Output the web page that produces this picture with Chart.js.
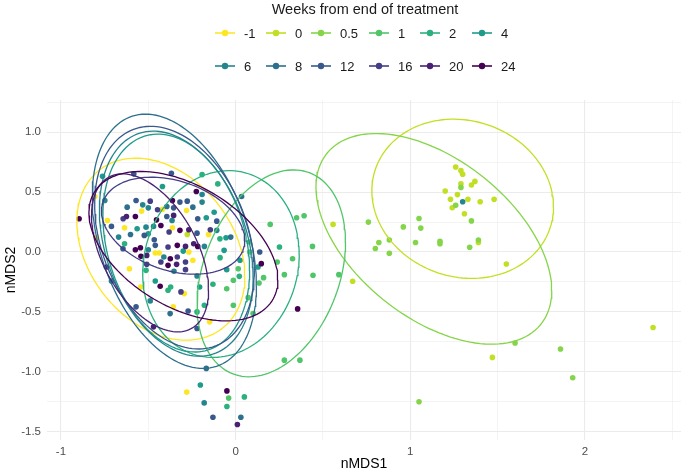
<!DOCTYPE html>
<html>
<head>
<meta charset="utf-8">
<script src="https://cdn.jsdelivr.net/npm/chart.js@4.4.1/dist/chart.umd.min.js"></script>
<style>
  body { margin: 0; background: #fff; font-family: "Liberation Sans", Arial, sans-serif; }
  #wrap { position: relative; width: 685px; height: 473px; }
  #legend { position: absolute; left: 0; top: 0; width: 685px; height: 95px; pointer-events: none; color: #1a1a1a; }
  #legend .title { position: absolute; left: 215px; width: 300px; top: 0; text-align: center; font-size: 14.5px; line-height: 18px; }
  #legend .item { position: absolute; height: 18px; display: flex; align-items: center; font-size: 13px; }
  #legend .item svg { margin-right: 9px; }
</style>
</head>
<body>
<div id="wrap">
  <canvas id="nmds"></canvas>
  <div id="legend"></div>
</div>
<script>
/* ------------------------------------------------------------
   DATA
------------------------------------------------------------- */
const weekLabels = ["-1", "0", "0.5", "1", "2", "4", "6", "8", "12", "16", "20", "24"];
const weekColors = ["#FDE725", "#C2DF23", "#85D54A", "#51C56A", "#2BB07F", "#1E9B8A",
                    "#25858E", "#2D708E", "#38598C", "#433E85", "#482173", "#440154"];

// points per group, [nMDS1, nMDS2]
const wkM1 = [[-0.806, 0.464], [-0.538, 0.342], [-0.419, 0.356], [-0.281, 0.347], [-0.734, 0.264],
  [-0.636, 0.203], [-0.362, 0.203], [-0.155, 0.147], [-0.796, 0.119], [-0.460, -0.008], [-0.438, -0.008],
  [-0.268, 0.0], [-0.245, -0.069], [-0.608, -0.139], [-0.543, -0.292], [-0.294, -0.347], [-0.357, -0.458],
  [-0.149, -0.583], [-0.28, -1.17]];
const wk0 = [[-0.277, 0.147], [0.558, 0.231], [0.670, -0.244], [1.26, 0.71], [1.29, 0.68], [1.30, 0.65],
  [1.29, 0.57], [1.35, 0.56], [1.37, 0.59], [1.20, 0.51], [1.27, 0.48], [1.23, 0.44], [1.33, 0.44],
  [1.40, 0.42], [1.48, 0.44], [1.24, 0.37], [1.31, 0.32], [1.39, 0.08], [1.55, -0.10], [1.47, -0.88],
  [2.39, -0.63]];
const wk05 = [[1.29, 0.54], [1.26, 0.39], [1.35, 0.26], [1.05, 0.28], [1.06, 0.20], [0.96, 0.21],
  [1.03, 0.08], [1.17, 0.09], [1.17, 0.07], [1.34, 0.04], [1.39, 0.10], [0.76, 0.25], [0.82, 0.08],
  [0.88, 0.10], [0.80, 0.03], [0.88, -0.01], [1.60, -0.76], [1.86, -0.81], [1.93, -1.05], [1.05, -1.25]];
const wk1 = [[0.198, 0.231], [0.349, 0.286], [0.392, 0.303], [0.326, -0.056], [0.440, 0.047],
  [0.238, -0.083], [0.160, -0.214], [0.279, -0.189], [0.443, -0.194], [0.591, -0.189], [0.279, -0.903],
  [0.368, -0.903], [0.077, 0.083], [0.081, 0.0], [0.015, -0.139], [-0.051, -0.306], [-0.013, -0.236],
  [0.072, -0.381], [0.134, -0.258], [-0.013, -0.444], [0.100, -0.514], [-0.04, -1.22]];
const wk2 = [[-0.192, 0.647], [-0.102, 0.569], [-0.636, 0.069], [-0.513, -0.153], [-0.387, -0.319],
  [-0.372, -0.292], [0.251, 0.042], [0.05, -1.21], [-0.05, -1.29], [-0.130, -0.269], [-0.089, -0.047],
  [-0.221, -0.500], [-0.179, -0.444], [0.021, -0.203], [-0.09, 0.11]];
const wk4 = [[-0.762, 0.633], [-0.419, 0.547], [-0.123, 0.333], [-0.564, 0.194], [-0.055, 0.119],
  [-0.066, 0.014], [0.025, -0.069], [0.128, -0.125], [-0.051, -0.147], [-0.460, -0.242], [-0.206, -0.292],
  [-0.202, -1.111], [-0.500, 0.153], [-0.300, 0.008], [-0.168, 0.286]];
const wk6 = [[-0.192, 0.481], [-0.749, 0.431], [-0.532, 0.394], [-0.500, 0.369], [-0.192, 0.417],
  [-0.364, 0.264], [-0.108, 0.181], [-0.670, 0.125], [-0.513, 0.208], [-0.470, 0.214], [-0.500, 0.019],
  [-0.179, 0.047], [-0.411, -0.042], [-0.353, -0.161], [-0.221, -0.200], [-0.711, -0.242], [-0.489, -0.408],
  [-0.18, -1.26], [1.30, 0.42]];
const wk8 = [[0.034, 0.464], [-0.621, 0.375], [-0.168, -0.972], [0.03, -1.38], [-0.602, 0.147],
  [-0.394, 0.381], [-0.245, 0.375], [-0.028, 0.125], [-0.375, -0.514]];
const wk12 = [[-0.583, 0.653], [-0.368, 0.658], [-0.570, 0.431], [-0.319, 0.417], [-0.277, 0.425],
  [-0.355, 0.369], [-0.394, 0.297], [-0.217, 0.278], [-0.108, 0.258], [-0.711, 0.214], [-0.221, 0.158],
  [-0.523, 0.139], [-0.466, 0.103], [-0.645, 0.028], [-0.460, 0.056], [0.138, 0.0], [-0.570, -0.458],
  [-0.272, -0.492], [-0.221, -0.639], [-0.13, -1.38]];
const wk16 = [[-0.489, 0.425], [-0.447, 0.353], [-0.644, 0.278], [-0.145, 0.186], [-0.381, 0.167],
  [-0.387, 0.042], [-0.287, -0.083], [-0.509, -0.103], [-0.287, -0.147], [-0.313, -0.333], [-0.334, -0.042],
  [-0.428, -0.083]];
const wk20 = [[-0.625, 0.297], [-0.355, 0.306], [-0.240, 0.069], [-0.509, -0.028], [-0.740, -0.125],
  [-0.470, -0.625], [0.01, -1.44], [-0.268, 0.186], [-0.287, 0.047], [-0.338, -0.103]];
const wk24 = [[-0.225, 0.506], [-0.362, 0.431], [-0.574, 0.297], [-0.453, 0.269], [-0.896, 0.278],
  [-0.428, 0.222], [-0.319, 0.181], [-0.574, 0.019], [-0.545, 0.036], [-0.334, 0.056], [-0.217, 0.047],
  [-0.542, -0.036], [-0.374, -0.056], [0.147, -0.097], [-0.387, -0.111], [-0.432, -0.286], [0.355, -0.475],
  [-0.05, -1.16]];
const groupPoints = [wkM1, wk0, wk05, wk1, wk2, wk4, wk6, wk8, wk12, wk16, wk20, wk24];

// 95% ellipses: centre, half width, half height, tilt (y offset at the rightmost point / half height)
const ellCx  = [-0.428, 1.30, 1.135, 0.204, -0.084, -0.34, -0.34, -0.351, -0.35, -0.358, -0.49, -0.299];
const ellCy  = [0.024, 0.445, 0.11, -0.178, -0.10, 0.075, 0.07, 0.09, 0.12, 0.22, -0.007, 0.049];
const ellRx  = [0.481, 0.52, 0.675, 0.425, 0.448, 0.42, 0.44, 0.47, 0.457, 0.41, 0.335, 0.541];
const ellRy  = [0.76, 0.665, 0.88, 0.864, 0.78, 0.91, 0.94, 1.062, 0.93, 0.405, 0.66, 0.624];
const ellRho = [-0.30, -0.10, -0.49, 0.30, 0.10, -0.25, -0.30, -0.35, -0.30, -0.30, -0.47, -0.45];

const xMajor = [-1, 0, 1, 2];
const xLabels = ["-1", "0", "1", "2"];
const xMinor = [-0.5, 0.5, 1.5, 2.5];
const yMajor = [-1.5, -1, -0.5, 0, 0.5, 1];
const yLabels = ["-1.5", "-1.0", "-0.5", "0.0", "0.5", "1.0"];
const yMinor = [-1.25, -0.75, -0.25, 0.25, 0.75, 1.25];


/* ------------------------------------------------------------
   LEGEND (html, two rows of six like ggplot)
------------------------------------------------------------- */
const legend = document.querySelector("#legend");
legend.innerHTML = '<div class="title">Weeks from end of treatment</div>';
const legendCols = [225, 276, 321, 379, 430, 482];
const legendRows = [33, 66];

weekLabels.forEach((lab, i) => {
    const item = document.createElement("div");
    item.className = "item";
    item.style.left = (legendCols[i % 6] - 10) + "px";
    item.style.top = (legendRows[Math.floor(i / 6)] - 9) + "px";
    item.innerHTML =
        `<svg width="20" height="18"><line x1="0" y1="9" x2="20" y2="9" stroke="${weekColors[i]}" stroke-width="1.6"/>` +
        `<circle cx="10" cy="9" r="3.2" fill="${weekColors[i]}"/></svg><span>${lab}</span>`;
    legend.appendChild(item);
});


/* ------------------------------------------------------------
   CHART
------------------------------------------------------------- */
function ellipseOutline(i) {
    const out = [];
    const s = Math.sqrt(1 - ellRho[i] * ellRho[i]);
    for (let k = 0; k <= 140; k++) {
        const t = k / 140 * 2 * Math.PI;
        out.push({
            x: ellCx[i] + ellRx[i] * Math.cos(t),
            y: ellCy[i] + ellRy[i] * (ellRho[i] * Math.cos(t) + s * Math.sin(t))
        });
    }
    return out;
}

const datasets = [];
groupPoints.forEach((pts, i) => {
    datasets.push({
        label: weekLabels[i],
        data: pts.map(p => ({ x: p[0], y: p[1] })),
        backgroundColor: weekColors[i],
        borderWidth: 0,
        pointRadius: 2.8,
        order: 100 + (11 - i)
    });
});
weekLabels.forEach((lab, i) => {
    datasets.push({
        label: lab + " ellipse",
        data: ellipseOutline(i),
        showLine: true,
        borderColor: weekColors[i],
        borderWidth: 1.3,
        pointRadius: 0,
        fill: false,
        order: 11 - i
    });
});

const gridColor = "#EBEBEB";
const tickFont = { family: "'Liberation Sans', Arial, sans-serif", size: 11.5 };
const titleFont = { family: "'Liberation Sans', Arial, sans-serif", size: 14 };

new Chart(document.querySelector("#nmds"), {
    type: "scatter",
    data: { datasets },
    options: {
        responsive: true,
        maintainAspectRatio: false,
        animation: false,
        events: [],
        layout: { padding: { top: 100, right: 3, left: 0, bottom: 0 } },
        plugins: { legend: { display: false }, tooltip: { enabled: false } },
        scales: {
            x: {
                type: "linear",
                min: -1.08,
                max: 2.55,
                afterBuildTicks: s => { s.ticks = [...xMajor, ...xMinor].sort((a, b) => a - b).map(v => ({ value: v })); },
                afterFit: s => { s.height = 33; },
                border: { display: false },
                grid: {
                    color: gridColor,
                    drawTicks: false,
                    lineWidth: c => (c.tick && xMajor.includes(c.tick.value)) ? 1.1 : 0.55
                },
                ticks: {
                    autoSkip: false,
                    maxRotation: 0,
                    padding: 5,
                    color: "#4D4D4D",
                    font: tickFont,
                    callback: v => { const j = xMajor.indexOf(v); return j >= 0 ? xLabels[j] : ""; }
                },
                title: { display: true, text: "nMDS1", color: "#000", font: titleFont, padding: { top: 0, bottom: 0 } }
            },
            y: {
                type: "linear",
                min: -1.57,
                max: 1.27,
                afterBuildTicks: s => { s.ticks = [...yMajor, ...yMinor].sort((a, b) => a - b).map(v => ({ value: v })); },
                afterFit: s => { s.width = 47; },
                border: { display: false },
                grid: {
                    color: gridColor,
                    drawTicks: false,
                    lineWidth: c => (c.tick && yMajor.includes(c.tick.value)) ? 1.1 : 0.55
                },
                ticks: {
                    autoSkip: false,
                    padding: 6,
                    color: "#4D4D4D",
                    font: tickFont,
                    callback: v => { const j = yMajor.indexOf(v); return j >= 0 ? yLabels[j] : ""; }
                },
                title: { display: true, text: "nMDS2", color: "#000", font: titleFont, padding: { top: 3, bottom: 0 } }
            }
        }
    }
});
</script>
</body>
</html>
